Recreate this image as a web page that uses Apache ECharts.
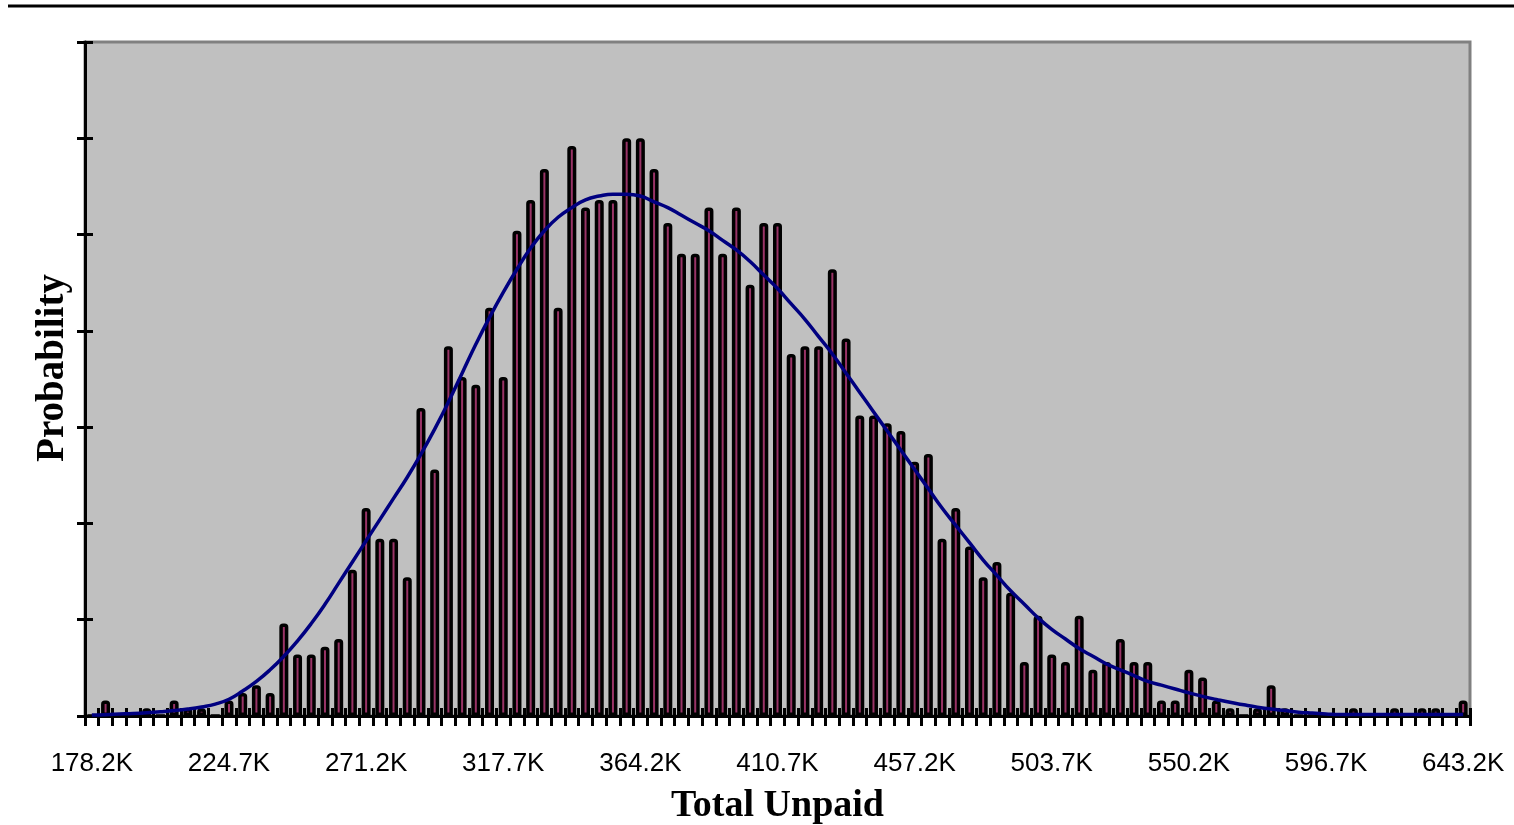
<!DOCTYPE html>
<html>
<head>
<meta charset="utf-8">
<script src="https://cdn.jsdelivr.net/npm/echarts@6/dist/echarts.min.js"></script>
<style>
html,body{margin:0;padding:0;background:#fff;}
#chart{width:1514px;height:825px;}
</style>
</head>
<body>
<div id="chart"></div>
<script>
// Bin centres of the histogram (Total Unpaid, in thousands)
var categories = [
"178.2K","182.9K","187.5K","192.2K","196.8K","201.5K","206.1K","210.8K","215.4K","220.1K",
"224.7K","229.4K","234.0K","238.7K","243.3K","248.0K","252.6K","257.3K","261.9K","266.6K",
"271.2K","275.9K","280.5K","285.2K","289.8K","294.5K","299.1K","303.8K","308.4K","313.1K",
"317.7K","322.4K","327.0K","331.7K","336.3K","341.0K","345.6K","350.3K","354.9K","359.6K",
"364.2K","368.9K","373.5K","378.2K","382.8K","387.5K","392.1K","396.8K","401.4K","406.1K",
"410.7K","415.4K","420.0K","424.7K","429.3K","434.0K","438.6K","443.3K","447.9K","452.6K",
"457.2K","461.9K","466.5K","471.2K","475.8K","480.5K","485.1K","489.8K","494.4K","499.1K",
"503.7K","508.4K","513.0K","517.7K","522.3K","527.0K","531.6K","536.3K","540.9K","545.6K",
"550.2K","554.9K","559.5K","564.2K","568.8K","573.5K","578.1K","582.8K","587.4K","592.1K",
"596.7K","601.4K","606.0K","610.7K","615.3K","620.0K","624.6K","629.3K","633.9K","638.6K",
"643.2K"
];

// Simulated probability per bin (histogram bars)
var probability = [
0, 0.0008, 0, 0, 0.0004, 0, 0.0008, 0.0004, 0.0004, 0,
0.0008, 0.0012, 0.0016, 0.0012, 0.0048, 0.0032, 0.0032, 0.0036, 0.004, 0.0076,
0.0108, 0.0092, 0.0092, 0.0072, 0.016, 0.0128, 0.0192, 0.0176, 0.0172, 0.0212,
0.0176, 0.0252, 0.0268, 0.0284, 0.0212, 0.0296, 0.0264, 0.0268, 0.0268, 0.03,
0.03, 0.0284, 0.0256, 0.024, 0.024, 0.0264, 0.024, 0.0264, 0.0224, 0.0256,
0.0256, 0.0188, 0.0192, 0.0192, 0.0232, 0.0196, 0.0156, 0.0156, 0.0152, 0.0148,
0.0132, 0.0136, 0.0092, 0.0108, 0.0088, 0.0072, 0.008, 0.0064, 0.0028, 0.0052,
0.0032, 0.0028, 0.0052, 0.0024, 0.0028, 0.004, 0.0028, 0.0028, 0.0008, 0.0008,
0.0024, 0.002, 0.0008, 0.0004, 0, 0.0004, 0.0016, 0.0004, 0, 0,
0, 0, 0.0004, 0, 0, 0.0004, 0, 0.0004, 0.0004, 0,
0.0008
];

// Fitted density curve, read at each bin
var fitted = [
0.00005, 0.00007, 0.0001, 0.00013, 0.00017, 0.00022, 0.00028, 0.00036, 0.00047, 0.00062,
0.00087, 0.0013, 0.0018, 0.0024, 0.0031, 0.0039, 0.0048, 0.0058, 0.0069, 0.008,
0.0091, 0.0102, 0.0113, 0.0124, 0.0136, 0.0149, 0.0163, 0.0178, 0.0193, 0.0207,
0.022, 0.0232, 0.0243, 0.0252, 0.0259, 0.0264, 0.0268, 0.027, 0.0271, 0.0271,
0.027, 0.0267, 0.0264, 0.026, 0.0256, 0.0252, 0.0247, 0.0242, 0.0236, 0.0229,
0.0222, 0.0214, 0.0206, 0.0197, 0.0188, 0.0178, 0.0168, 0.0158, 0.0148, 0.0138,
0.0128, 0.0118, 0.0108, 0.0099, 0.009, 0.0081, 0.0073, 0.0065, 0.0058, 0.0051,
0.0045, 0.004, 0.0035, 0.0031, 0.0027, 0.0024, 0.0021, 0.0018, 0.0016, 0.0014,
0.0012, 0.00102, 0.00086, 0.00071, 0.00058, 0.00046, 0.00036, 0.00028, 0.0002, 0.00015,
0.00011, 0.00008, 0.00008, 0.00008, 0.00008, 0.00008, 0.00008, 0.00008, 0.00008, 0.00008,
0.00008
];

var yMin = 0, yMax = 0.035, yStep = 0.005;

var chart = echarts.init(document.getElementById('chart'), null, {renderer: 'canvas'});
var option = {
  animation: false,
  backgroundColor: '#ffffff',
  graphic: [{
    type: 'line',
    shape: {x1: 8, y1: 6, x2: 1514, y2: 6},
    style: {stroke: '#000', lineWidth: 3}
  }],
  grid: {
    left: 85, right: 44, top: 42, bottom: 109,
    outerBoundsMode: 'none',
    containLabel: false,
    show: true, backgroundColor: '#c0c0c0', borderColor: '#808080', borderWidth: 3
  },
  xAxis: [{
    type: 'category',
    data: categories,
    position: 'bottom',
    name: 'Total Unpaid',
    nameLocation: 'middle',
    nameGap: 71,
    nameTextStyle: {fontFamily: 'Liberation Serif', fontWeight: 'bold', fontSize: 38, color: '#000'},
    axisLine: {show: true, lineStyle: {color: '#000', width: 3}},
    axisTick: {show: true, interval: 0, length: 10, lineStyle: {color: '#000', width: 3}},
    axisLabel: {interval: 9, margin: 35, fontFamily: 'Liberation Sans', fontSize: 26, color: '#000'},
    splitLine: {show: false}
  }, {
    type: 'category',
    data: categories,
    position: 'bottom',
    axisLine: {show: false},
    axisTick: {show: true, inside: true, interval: 0, length: 8, lineStyle: {color: '#000', width: 3}},
    axisLabel: {show: false},
    splitLine: {show: false}
  }],
  yAxis: [{
    type: 'value',
    min: yMin, max: yMax, interval: yStep,
    position: 'left',
    name: 'Probability',
    nameLocation: 'middle',
    nameGap: 13,
    nameRotate: 90,
    nameTextStyle: {fontFamily: 'Liberation Serif', fontWeight: 'bold', fontSize: 39, color: '#000', padding: [0, 0, 0, 22]},
    axisLine: {show: true, lineStyle: {color: '#000', width: 3}},
    axisTick: {show: true, length: 8, lineStyle: {color: '#000', width: 3}},
    axisLabel: {show: false},
    splitLine: {show: false}
  }, {
    type: 'value',
    min: yMin, max: yMax, interval: yStep,
    position: 'left',
    axisLine: {show: false},
    axisTick: {show: true, inside: true, length: 8, lineStyle: {color: '#000', width: 3}},
    axisLabel: {show: false},
    splitLine: {show: false}
  }],
  series: [{
    type: 'bar',
    data: probability,
    xAxisIndex: 0, yAxisIndex: 0,
    barWidth: 9,
    itemStyle: {color: '#993366', borderColor: '#000', borderWidth: 3.5, borderRadius: [2, 2, 0, 0]},
    z: 2
  }, {
    type: 'line',
    data: fitted,
    xAxisIndex: 0, yAxisIndex: 0,
    smooth: true,
    symbol: 'none',
    lineStyle: {color: '#000080', width: 3.5},
    z: 5
  }]
};
chart.setOption(option);
</script>
</body>
</html>
